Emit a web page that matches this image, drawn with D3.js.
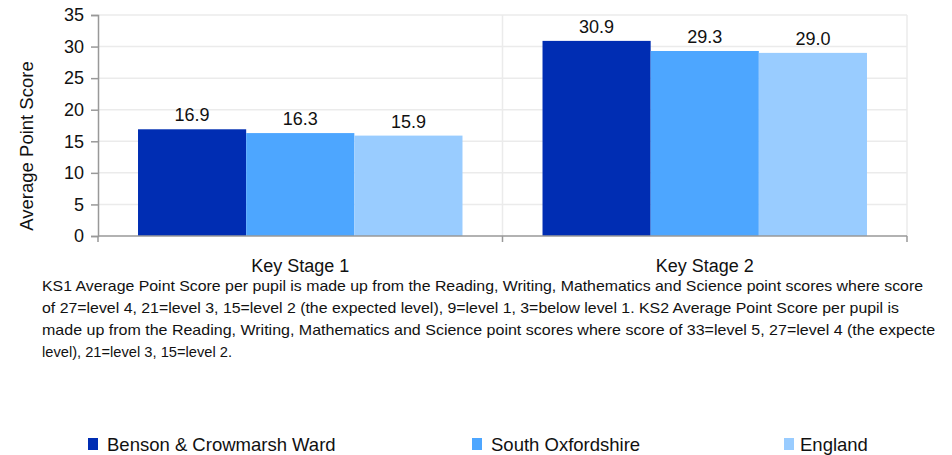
<!DOCTYPE html>
<html><head><meta charset="utf-8">
<script src="https://cdn.jsdelivr.net/npm/d3@7"></script>
<style>body{margin:0;background:#fff}svg{display:block}</style>
</head><body>
<script>
const categories = ["Key Stage 1", "Key Stage 2"];
const seriesNames = ["Benson & Crowmarsh Ward", "South Oxfordshire", "England"];
const bensonValues = [16.9, 30.9];
const southOxValues = [16.3, 29.3];
const englandValues = [15.9, 29.0];
const yTicks = [0, 5, 10, 15, 20, 25, 30, 35];
const colors = ["#002db3", "#4da6ff", "#99ccff"];
const noteLines = [
  "KS1 Average Point Score per pupil is  made up from  the Reading, Writing,  Mathematics and Science point scores where score",
  "of 27=level 4, 21=level 3, 15=level 2 (the expected level), 9=level 1, 3=below level 1. KS2 Average Point Score per pupil is",
  "made up from  the Reading, Writing,  Mathematics and Science point scores where score of 33=level 5, 27=level 4 (the expected",
  "level), 21=level 3, 15=level 2."
];
const noteWidths = [881, 857, 902, 190];

const W = 952, H = 455;
const m = {left: 98, right: 907, top: 15, bottom: 236};
const FONT = "Liberation Sans, Arial, sans-serif";
const svg = d3.select("body").append("svg").attr("width", W).attr("height", H)
  .style("font-family", FONT);

const y = d3.scaleLinear().domain([0, 35]).range([m.bottom, m.top]);
const x0 = d3.scaleBand().domain(categories).range([m.left, m.right]).paddingInner(0).paddingOuter(0);
const x1 = d3.scaleBand().domain(seriesNames).range([0, x0.bandwidth()]).paddingInner(0).paddingOuter(0.37);

// gridlines
svg.append("g").selectAll("line").data(yTicks.slice(1)).join("line")
  .attr("x1", m.left).attr("x2", m.right).attr("y1", d => y(d)).attr("y2", d => y(d))
  .attr("stroke", "#ebebeb").attr("stroke-width", 1.5);
svg.append("g").selectAll("line").data([x0.range()[0] + x0.bandwidth(), m.right]).join("line")
  .attr("x1", d => d).attr("x2", d => d).attr("y1", m.top).attr("y2", m.bottom)
  .attr("stroke", "#ebebeb").attr("stroke-width", 1.5);

const data = categories.map((c, i) => ({cat: c, vals: [bensonValues[i], southOxValues[i], englandValues[i]]}));
const g = svg.append("g").selectAll("g").data(data).join("g")
  .attr("transform", d => `translate(${x0(d.cat)},0)`);
g.selectAll("rect").data(d => d.vals.map((v, j) => ({v, s: seriesNames[j], j}))).join("rect")
  .attr("x", d => x1(d.s)).attr("width", x1.bandwidth())
  .attr("y", d => y(d.v)).attr("height", d => y(0) - y(d.v))
  .attr("fill", d => colors[d.j]);
g.selectAll("text").data(d => d.vals.map((v, j) => ({v, s: seriesNames[j]}))).join("text")
  .attr("x", d => x1(d.s) + x1.bandwidth() / 2).attr("y", d => y(d.v) - 8)
  .attr("text-anchor", "middle").attr("font-size", 18).attr("fill", "#111")
  .text(d => d.v.toFixed(1));

// y axis
const ya = svg.append("g").attr("transform", `translate(${m.left},0)`)
  .call(d3.axisLeft(y).tickValues(yTicks).tickSize(7).tickPadding(7));
ya.select(".domain").attr("stroke", "#999").attr("stroke-width", 1.5);
ya.selectAll(".tick line").attr("stroke", "#999").attr("stroke-width", 1.5);
ya.selectAll(".tick text").attr("font-size", 18).attr("fill", "#111").attr("font-family", FONT);

// x axis
const xa = svg.append("g").attr("transform", `translate(0,${m.bottom})`);
xa.append("line").attr("x1", m.left).attr("x2", m.right).attr("stroke", "#999").attr("stroke-width", 1.5);
xa.selectAll("line.tk").data([m.left, m.left + x0.bandwidth(), m.right]).join("line").attr("class", "tk")
  .attr("x1", d => d).attr("x2", d => d).attr("y1", 0).attr("y2", 6).attr("stroke", "#999").attr("stroke-width", 1.5);
xa.selectAll("text").data(categories).join("text")
  .attr("x", d => x0(d) + x0.bandwidth() / 2).attr("y", 36)
  .attr("text-anchor", "middle").attr("font-size", 18).attr("fill", "#111").text(d => d);

// y title
svg.append("text").attr("transform", `translate(33,146) rotate(-90)`)
  .attr("text-anchor", "middle").attr("font-size", 18.5).attr("fill", "#111").text("Average Point Score");

// notes
svg.append("defs").append("clipPath").attr("id", "clip").append("rect")
  .attr("x", 0).attr("y", 0).attr("width", 935).attr("height", H);
svg.append("g").attr("clip-path", "url(#clip)").selectAll("text").data(noteLines).join("text")
  .attr("x", 42).attr("y", (d, i) => 291 + i * 22)
  .attr("font-size", 15).attr("fill", "#111")
  .attr("textLength", (d, i) => noteWidths[i]).attr("lengthAdjust", "spacingAndGlyphs")
  .text(d => d);

// legend
const legX = [88, 472, 784];
const lg = svg.append("g").selectAll("g").data(seriesNames).join("g")
  .attr("transform", (d, i) => `translate(${legX[i]},438)`);
lg.append("rect").attr("width", 10).attr("height", 12).attr("fill", (d, i) => colors[i]);
lg.append("text").attr("x", (d, i) => i === 2 ? 16 : 19).attr("y", 13).attr("font-size", 18.5).attr("fill", "#111").text(d => d);
</script>
</body></html>
